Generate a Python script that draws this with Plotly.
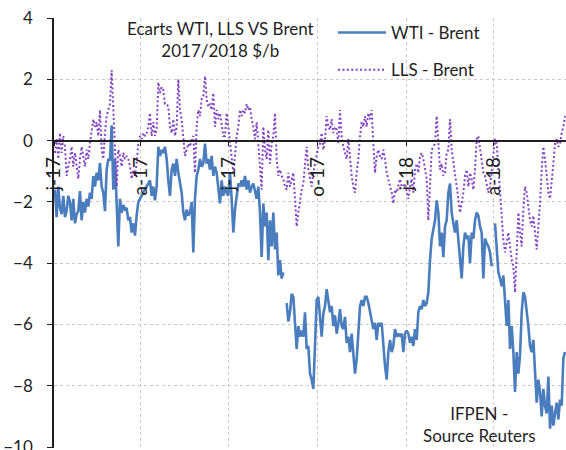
import pandas as pd
import plotly.graph_objects as go

# Daily spreads vs Brent ($/b), Jan 2017 -> mid-June 2018 (None = no quote)
wti_brent = [
    -1.6, -2.5, -1.5, -2.2, -2.4, -1.8, -2.5, -2.3, -1.8, -2.0,
    -2.6, -1.9, -2.7, -2.4, -2.3, -1.65, -2.6, -2.0, -2.35, -1.9,
    -2.15, -1.7, -1.9, -1.16, -1.5, -1.05, -1.3, -0.73, -1.5, -1.7,
    -2.3, -0.95, -0.6, -0.65, 0.5, -1.6, -0.6, -1.9, -3.45, -1.9,
    -2.35, -2.1, -2.25, -2.2, -2.6, -2.5, -3.0, -2.7, -3.1, -2.45,
    -2.0, -1.9, -1.8, -1.7, -1.6, -1.5, -1.4, -1.3, -1.8, -1.5,
    -1.95, -1.5, -0.2, -0.5, -0.3, -0.4, -0.2, -0.6, -1.3, -1.8,
    -0.95, -0.75, -1.15, -0.6, -1.05, -1.4, -1.7, -2.35, -2.6, -2.25,
    -2.45, -2.35, -2.0, -3.65, -1.9, -1.15, -0.95, -0.6, -0.85, -0.75,
    -0.1, -0.75, -0.6, -0.95, -0.5, -1.15, -0.85, -1.05, -1.6, -2.05,
    -1.3, -1.8,
    -1.5, -1.7, -1.8, -1.05, -1.9, -3.0, -2.25, -1.8, -1.4, -1.5,
    -1.3, -1.5, -1.15, -1.6, -1.3, -1.7, -1.5, -1.4, -1.7, -1.9,
    -1.5, -2.35, -3.8, -2.05, -2.8, -2.35, -3.9, -2.6, -3.45, -2.35,
    -3.55, -3.0, -4.4, -3.9, -4.5, -4.3, None, -5.3, -5.9, -5.6,
    -5.0, -5.1, -5.8, -6.8, -6.05, -6.4, -6.2, -6.4, -5.6, -6.8,
    -6.7, -7.6, -7.8, -8.1, -6.7, -5.2, -5.1, -5.85, -6.4, -5.65,
    -5.4, -4.85, -5.2, -5.6, -5.4, -6.05, -5.7, -6.3, -5.95, -5.5,
    -6.05, -6.15, -5.75, -6.6, -6.4, -6.9, -6.3, -7.0, -7.6, -7.15,
    -6.3, -5.4, -5.2, -5.4, -5.1, -5.1, -5.3, -5.6, -5.85, -6.15,
    -5.95, -6.5, -5.95, -6.05, -5.95, -6.7, -7.35, -7.8, -6.9, -6.5,
    -6.9, -6.7, -6.15, -6.4, -6.3,
    -6.4, -6.3, -6.9, -6.3, -6.2, -6.3, -6.6, -6.4, -6.7, -6.15,
    -6.5, -5.6, -5.4, -5.5, -5.2, -5.4, -5.3, -4.95, -3.9, -3.2,
    -2.9, -2.6, -1.95, -2.35, -3.45, -3.0, -3.8, -2.8, -2.6, -1.7,
    -1.4, -2.35, -2.7, -3.0, -2.6, -3.2, -3.9, -4.5, -3.45, -3.0,
    -3.2, -3.1, -4.0, -3.0, -3.2, -2.6, -2.35, -2.45, -2.8, -3.0,
    -4.5, -3.2, -3.35, -3.45, -3.65, -4.1, None, -2.7, -3.45, -4.3,
    -4.5, -4.75, -4.4, -5.1, -6.05, -5.2, -6.8, -6.05, -6.9, -8.2,
    -6.9, -7.6, -7.0, -5.6, -4.95, -5.1, -5.5, -6.05, -6.7, -6.9,
    -6.5, -7.35, -8.55, -7.8, -8.2, -9.0, -8.1, -8.65, -8.9, -7.7,
    -9.4, -8.65, -9.3, -8.9, -8.55, -9.1, -8.45, -8.65, -7.1, -6.9,
]

lls_brent = [
    -0.4, 0.05, -0.6, 0.25, -0.4, 0.15, -0.2, -1.15, -0.85, -0.6,
    -0.2, -0.85, -0.4, -0.95, -1.25, -0.6, -0.2, -0.5, -0.85, -0.3,
    -0.6, -0.1, 0.25, 0.7, 0.45, 0.6, 0.15, 1.0, -0.3, -0.6,
    0.25, 0.8, 1.0, 1.2, 2.3, 0.9, -0.1, -1.5, -0.3, -0.5,
    -0.85, -0.4, -0.6, -0.5, -0.6, -0.85, -1.25, -0.95, -1.15, -0.75,
    -0.1, 0.15, 0.05, 0.25, 0.15, 0.25, 0.45, 0.9, 0.15, 0.6,
    0.15, 0.35, 1.9, 1.55, 1.75, 1.65, 1.2, 1.2, 1.1, 0.45,
    0.25, 0.7, 0.15, 0.45, 2.0, 1.0, 0.7, 0.15, -0.5, -0.3,
    -0.1, -0.2, 0.05, 0.15, -1.05, 0.45, 1.0, 0.8, 1.35, 1.45,
    2.1, 1.35, 1.1, 1.2, 1.0, 1.55, 0.45, 1.0, 0.7, 0.9,
    0.45, 0.15,
    0.15, 0.9, 0.45, -0.1, -0.6, -1.05, -0.5, 0.15, 0.45, 1.0,
    0.8, 1.0, 0.9, 1.2, 1.0, 1.1, 0.7, 0.45, 0.05, 0.6,
    -0.1, -0.85, -1.6, 0.45, -0.3, -0.6, 0.35, -0.75, -0.1, 0.15,
    0.9, -0.6, -1.15, -0.95, -1.15, -1.25, -1.5, -1.6, -1.05, -1.5,
    -1.25, -1.05, -1.9, -2.8, -2.35, -1.9, -1.6, -1.4, -0.75, -0.2,
    -0.95, -1.25, -1.5, -1.05, -0.75, -0.5, -0.2, -0.1, 0.25, -0.3,
    0.05, 0.8, 0.45, 0.35, 0.7, 0.25, 0.45, 0.35, -0.1, 1.0,
    0.15, -0.2, -0.4, -0.6, 0.05, -0.6, -1.15, -1.5, -1.7, -1.05,
    -0.6, 0.15, 0.6, 0.45, 0.8, 0.45, 0.9, 0.7, 1.0, -0.1,
    -1.05, -0.5, -0.3, -0.5, -0.6, -0.3, -0.6, -1.05, -1.25, -1.5,
    -1.7, -2.05, -1.6, -1.7, -1.5,
    -1.25, -1.5, -1.5, -1.4, -1.7, -1.9, -1.5, -1.25, -1.7, -0.95,
    -0.75, -1.05, -0.5, -0.4, -0.6, -0.95, -1.25, -2.6, -1.25, -0.3,
    -0.2, -0.1, 0.8, -0.2, -0.95, -0.75, -1.15, -1.05, -0.4, -0.3,
    0.7, -0.3, -0.75, -1.25, -1.5, -1.9, -2.35, -2.05, -1.7, -1.15,
    -0.95, -1.5, -1.05, -1.25, -1.6, -0.95, 0.05, 0.15, -0.2, -0.6,
    -1.05, -1.15, -1.4, -1.7, -1.5, -0.95, -0.6, 0.05, -0.1, -0.85,
    -1.9, -2.35, -3.25, -3.65, -3.35, -3.0, -3.45, -3.9, -4.1, -4.95,
    -3.65, -2.35, -3.0, -3.45, -2.25, -1.5, -1.7, -2.15, -2.6, -2.8,
    -2.45, -3.0, -3.55, -2.8, -2.05, -0.95, -0.2, -0.6, -1.25, -1.7,
    -1.9, -1.4, -0.75, -0.1, 0.05, -0.2, -0.1, 0.25, 0.45, 0.8,
]

first_day = "2017-01-04"
last_day = "2018-06-16"
axis_start = "2017-01-03"
axis_end = "2018-06-17"
tick_dates = ["2017-01-03", "2017-04-03", "2017-07-03",
              "2017-10-03", "2018-01-03", "2018-04-03"]
tick_labels = ["j-17", "a-17", "j-17", "o-17", "j-18", "a-18"]
y_min, y_max = -10, 4
y_ticks = [4, 2, 0, -2, -4, -6, -8, -10]

dates = pd.date_range(first_day, last_day, periods=len(wti_brent))

FONT = "Lato, 'Open Sans', sans-serif"
INK = "#1f1f1f"
GRID = "#c9c9c9"

# a hair of padding below -10 so the bottom tick and its label are kept
y_lo = y_min - 0.03

fig = go.Figure()
fig.add_trace(go.Scatter(
    x=dates, y=wti_brent, mode="lines", name="WTI - Brent",
    legendgroup="wti",
    line=dict(color="#4a7dbd", width=2.6),
))
fig.add_trace(go.Scatter(
    x=dates, y=lls_brent, mode="lines", name="LLS - Brent",
    legendgroup="lls",
    line=dict(color="#8143c4", width=2, dash="2px,2.4px"),
))

fig.update_layout(
    width=566, height=450,
    margin=dict(l=54, r=0, t=18, b=2, autoexpand=False),
    paper_bgcolor="white", plot_bgcolor="white",
    font=dict(family=FONT, size=16, color=INK),
    showlegend=True,
    legend=dict(
        x=0.545, y=1.007, xanchor="left", yanchor="top",
        bgcolor="rgba(255,255,255,0)", borderwidth=0,
        font=dict(size=17, color=INK), itemwidth=48,
        tracegroupgap=12,
    ),
    xaxis=dict(
        type="date", range=[axis_start, axis_end],
        anchor="free", position=(0 - y_lo) / (y_max - y_lo),
        tickmode="array", tickvals=tick_dates, ticktext=tick_labels,
        tickangle=-90, ticks="outside", ticklen=5, tickcolor=INK,
        tickfont=dict(size=19, color=INK), ticklabelstandoff=3,
        showline=True, linecolor=INK, linewidth=1.5,
        showgrid=True, gridcolor=GRID, griddash="dot", gridwidth=1,
        zeroline=False,
    ),
    yaxis=dict(
        range=[y_lo, y_max], tickmode="array", tickvals=y_ticks,
        ticks="outside", ticklen=5, tickcolor=INK,
        tickfont=dict(size=17, color=INK), ticklabelstandoff=11,
        ticklabeloverflow="allow", automargin=False,
        showline=True, linecolor=INK, linewidth=1.5,
        showgrid=True, gridcolor=GRID, griddash="dot", gridwidth=1,
        zeroline=False,
    ),
    annotations=[
        dict(text="Ecarts WTI, LLS VS Brent<br>2017/2018 $/b",
             xref="paper", yref="paper", x=0.326, y=0.951,
             xanchor="center", yanchor="middle", showarrow=False,
             font=dict(size=17, color=INK)),
        dict(text="IFPEN -<br>Source Reuters",
             xref="paper", yref="paper", x=0.832, y=0.055,
             xanchor="center", yanchor="middle", showarrow=False,
             font=dict(size=17, color=INK)),
    ],
)

fig.write_html("out.html")
